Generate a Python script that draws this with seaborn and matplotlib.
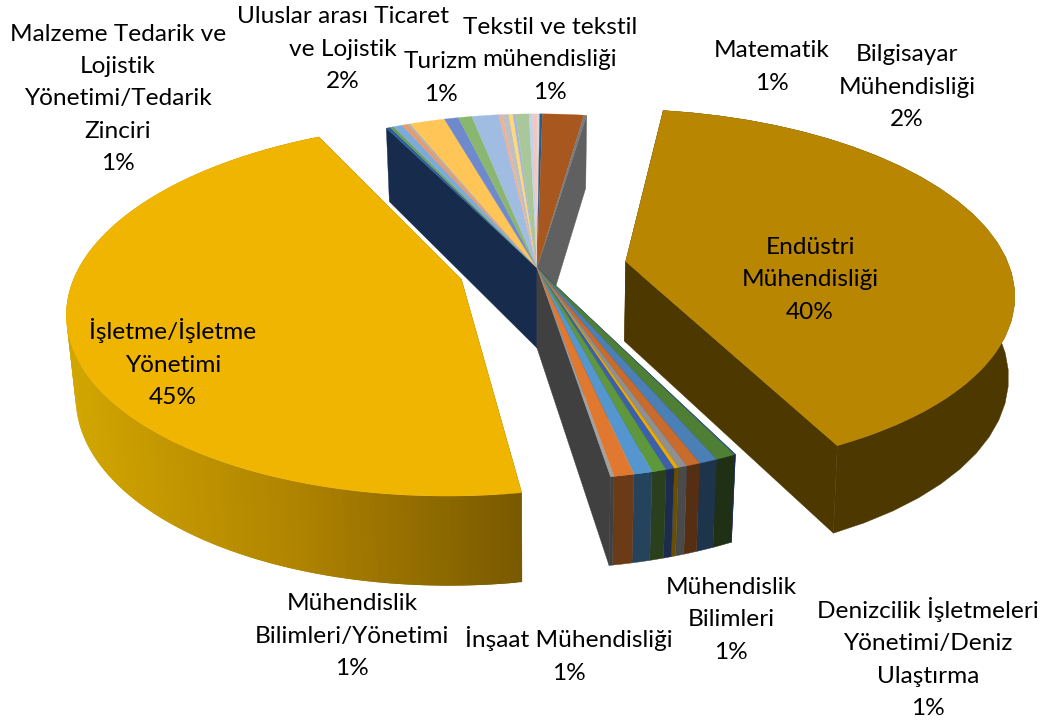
import numpy as np
import matplotlib
matplotlib.use("Agg")
import matplotlib.pyplot as plt
import seaborn as sns

# slices clockwise, starting at the left edge of the small back group
slice_values = [0.20, 0.17, 0.44, 0.26, 0.14, 1.70, 0.68, 0.66, 1.30, 0.16, 0.32, 0.20, 0.13,
                0.65, 0.16, 0.24, 0.11, 0.13, 2.00, 0.13,
                40.3,
                0.05, 0.72, 0.66, 0.50, 0.32, 0.16, 0.30, 0.52, 0.66, 0.72, 0.12,
                45.2]
slice_explode = [0] * 20 + [0.235] + [0] * 11 + [0.205]
slice_blocks = ["back"] * 20 + ["gold"] + ["front"] * 11 + ["yellow"]

top_colors = ["#2C5F9E", "#6FA050", "#7BAADB", "#E89A6F", "#B0B0B0", "#FFC556", "#6E89CC",
              "#8BB670", "#A0BCE0", "#F0AF98", "#C0C0C0", "#FFD878", "#A6B5E0",
              "#A9C79A", "#BFD3EC", "#F0C8C0", "#D8D8D8", "#255E91", "#A8571E", "#7A7A7A",
              "#B88600",
              "#2C5599", "#4F7F35", "#4A80B5", "#C96B2D", "#909090", "#EBAA00", "#3B60AF",
              "#5F973D", "#5596CE", "#E0782F", "#A0A0A0",
              "#F0B500"]
side_colors = ["#172B4D"] * 19 + ["#606060"] + ["#4D3800"] + \
              ["#1B2C4E", "#1F3015", "#1E344B", "#552E14", "#4A4A4A", "#6B4F00", "#1B2C4E",
               "#2A3F1C", "#26435E", "#6B3A16", "#404040"] + ["#8A6800"]

label_texts = ["Malzeme Tedarik ve\nLojistik\nYönetimi/Tedarik\nZinciri\n1%",
               "Uluslar arası Ticaret\nve Lojistik\n2%",
               "Turizm\n1%",
               "Tekstil ve tekstil\nmühendisliği\n1%",
               "Matematik\n1%",
               "Bilgisayar\nMühendisliği\n2%",
               "Endüstri\nMühendisliği\n40%",
               "İşletme/İşletme\nYönetimi\n45%",
               "Mühendislik\nBilimleri/Yönetimi\n1%",
               "İnşaat Mühendisliği\n1%",
               "Mühendislik\nBilimleri\n1%",
               "Denizcilik İşletmeleri\nYönetimi/Deniz\nUlaştırma\n1%"]
label_x = [118, 343, 441, 550, 772, 907, 810, 173, 352, 569, 731, 928]
label_y = [99, 49, 78, 60, 67, 87, 280, 363, 636, 655, 620, 658]

# projection of the pie plane onto the picture
CX, CY = 537, 268
A, B, K = 384, 178.5, 0.158
DEPTH, KZ = 80, 0.1
SHRINK = {"back": 0.98, "yellow": 0.98, "gold": 0.987, "front": 0.98}
START = -26.6

sns.set_theme(style="white")
plt.rcParams["font.family"] = ["Lato", "DejaVu Sans"]


def project(u, v, z=0.0, shrink=0.98):
    w = 1 + K * v
    s = 1 - (1 - shrink) * z
    return CX + s * A * u / w, CY - B * v / w + z * DEPTH / (1 + KZ * v)


def rim(t0, t1, ou, ov, n=80):
    t = np.radians(np.linspace(t0, t1, n))
    return ou + np.sin(t), ov + np.cos(t)


def wall(ax, ou, ov, t, color, shrink):
    eu, ev = ou + np.sin(np.radians(t)), ov + np.cos(np.radians(t))
    pts = [project(ou, ov), project(eu, ev), project(eu, ev, 1, shrink), project(ou, ov, 1, shrink)]
    ax.fill([p[0] for p in pts], [p[1] for p in pts], color=color, lw=0.3)


edges = START + np.concatenate([[0], np.cumsum(slice_values)]) / np.sum(slice_values) * 360

fig, ax = plt.subplots(figsize=(10.43, 7.22), dpi=100, facecolor="white")
fig.subplots_adjust(0, 0, 1, 1)

grad = sns.blend_palette(["#D2A600", "#B08400", "#7A5A00"], 200)

for block in ["back", "yellow", "gold", "front"]:
    idx = [i for i, b in enumerate(slice_blocks) if b == block]
    mid = np.radians((edges[idx[0]] + edges[idx[-1] + 1]) / 2)
    e = slice_explode[idx[0]]
    ou, ov = e * np.sin(mid), e * np.cos(mid)
    sh = SHRINK[block]

    # end walls of the block
    wall(ax, ou, ov, edges[idx[0]], side_colors[idx[0]], sh)
    wall(ax, ou, ov, edges[idx[-1] + 1], side_colors[idx[-1]], sh)

    # outer side, the back one is hidden and the big yellow slice has a gradient
    for i in idx:
        if block == "back":
            continue
        ru, rv = rim(edges[i], edges[i + 1], ou, ov, 240 if block == "yellow" else 30)
        x0, y0 = project(ru, rv)
        x1, y1 = project(ru, rv, 1, sh)
        if block == "yellow":
            # go from the right end to the left, each strip overlaps the one before
            t = (x0.max() - x0) / (x0.max() - x0.min())
            for j in range(len(ru) - 2):
                c = grad[int((1 - t[j]) * 199)]
                ax.fill(np.r_[x0[j:j + 3], x1[j:j + 3][::-1]],
                        np.r_[y0[j:j + 3], y1[j:j + 3][::-1]], color=c, lw=0)
        else:
            ax.fill(np.r_[x0, x1[::-1]], np.r_[y0, y1[::-1]], color=side_colors[i], lw=0.3)

    # top faces
    for i in idx:
        ru, rv = rim(edges[i], edges[i + 1], ou, ov)
        x, y = project(np.r_[ou, ru], np.r_[ov, rv])
        ax.fill(x, y, color=top_colors[i], lw=0.2)

for txt, x, y in zip(label_texts, label_x, label_y):
    ax.text(x, y, txt, ha="center", va="center", fontsize=17.6, color="black", linespacing=1.66)

ax.set_xlim(0, 1043)
ax.set_ylim(722, 0)
ax.axis("off")
fig.savefig("out.png", dpi=100, facecolor="white")
